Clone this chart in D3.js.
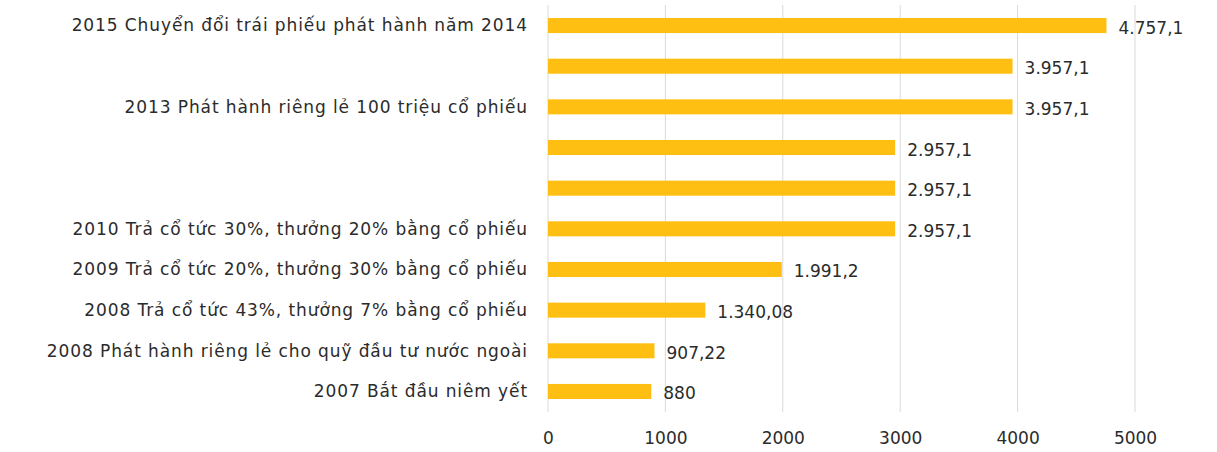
<!DOCTYPE html>
<html>
<head>
<meta charset="utf-8">
<script src="https://cdn.jsdelivr.net/npm/d3@7"></script>
<style>
  body { margin: 0; background: #fff; }
  svg { display: block; font-family: "DejaVu Sans", "Noto Sans", sans-serif; }
</style>
</head>
<body>
<svg id="chart"></svg>
<script>
// categories, top to bottom (some rows have no label in the original)
const categories = [
  "2015 Chuyển đổi trái phiếu phát hành năm 2014",
  "",
  "2013 Phát hành riêng lẻ 100 triệu cổ phiếu",
  "",
  "",
  "2010 Trả cổ tức 30%, thưởng 20% bằng cổ phiếu",
  "2009 Trả cổ tức 20%, thưởng 30% bằng cổ phiếu",
  "2008 Trả cổ tức 43%, thưởng 7% bằng cổ phiếu",
  "2008 Phát hành riêng lẻ cho quỹ đầu tư nước ngoài",
  "2007 Bắt đầu niêm yết"
];
const values = [4757.1, 3957.1, 3957.1, 2957.1, 2957.1, 2957.1, 1991.2, 1340.08, 907.22, 880];
const xTicks = [0, 1000, 2000, 3000, 4000, 5000];

const width = 1217, height = 452;
const margin = { top: 5, right: 82, bottom: 40, left: 548 };
const innerW = width - margin.left - margin.right;
const innerH = height - margin.top - margin.bottom;
const fontSize = 17;
const textColor = "#2b2b2b";

const svg = d3.select("#chart").attr("width", width).attr("height", height);
const g = svg.append("g").attr("transform", `translate(${margin.left},${margin.top})`);

const idx = d3.range(categories.length);
const x = d3.scaleLinear().domain([0, 5000]).range([0, innerW]);
const y = d3.scaleBand().domain(idx).range([0, innerH]).paddingInner(0.63).paddingOuter(0.32);

// vietnamese number format for data labels
const vn = d3.formatLocale({ decimal: ",", thousands: ".", grouping: [3], currency: ["", ""] });
const fmt = vn.format(",.2~f");

// gridlines
g.selectAll(".grid").data(xTicks).join("line")
  .attr("class", "grid")
  .attr("x1", d => x(d)).attr("x2", d => x(d))
  .attr("y1", 0).attr("y2", innerH)
  .attr("stroke", "#d9d9d9").attr("stroke-width", 1);

// bars
g.selectAll(".bar").data(idx).join("rect")
  .attr("class", "bar")
  .attr("x", x(0))
  .attr("y", i => y(i))
  .attr("width", i => x(values[i]) - x(0))
  .attr("height", y.bandwidth())
  .attr("fill", "#FFBF12");

// value labels
g.selectAll(".val").data(idx).join("text")
  .attr("class", "val")
  .attr("x", i => x(values[i]) + 12)
  .attr("y", i => y(i) + y.bandwidth() / 2 + 8)
  .attr("fill", textColor)
  .attr("font-size", fontSize)
  .text(i => fmt(values[i]));

// category labels
g.selectAll(".cat").data(idx).join("text")
  .attr("class", "cat")
  .attr("x", -20)
  .attr("y", i => y(i) + y.bandwidth() / 2)
  .attr("dy", "0.35em")
  .attr("text-anchor", "end")
  .attr("fill", textColor)
  .attr("font-size", fontSize)
  .attr("letter-spacing", 0.9)
  .text(i => categories[i]);

// x axis
const xAxis = d3.axisBottom(x).tickValues(xTicks).tickFormat(d3.format("d")).tickSize(0).tickPadding(20);
const ax = g.append("g").attr("transform", `translate(0,${innerH})`).call(xAxis);
ax.select(".domain").remove();
ax.selectAll("text").attr("font-size", fontSize).attr("fill", textColor).style("font-family", "'DejaVu Sans', 'Noto Sans', sans-serif");
</script>
</body>
</html>
